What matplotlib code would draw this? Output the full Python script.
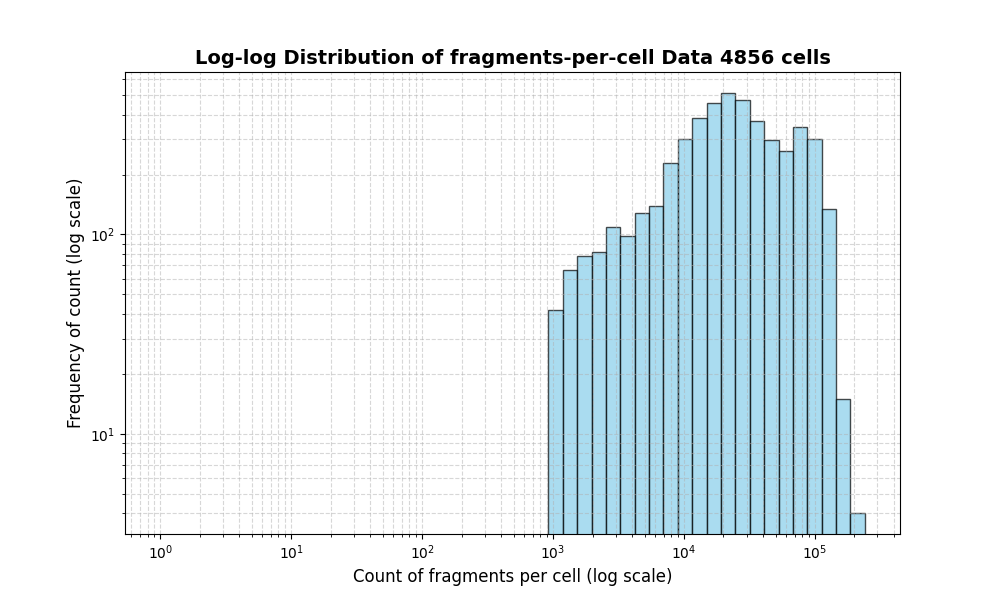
import numpy as np
import matplotlib
matplotlib.use("Agg")
from matplotlib import pyplot as plt

n_cells = 4856
max_fragments = 240000
n_edges = 50
first_bin = 27  # bins below this one are empty

# counts of the non-empty log bins
counts = [42, 66, 78, 82, 109, 98, 128, 139, 228, 301, 384, 458,
          513, 475, 373, 297, 261, 348, 300, 134, 15, 4]

bins = np.logspace(0, np.log10(max_fragments), n_edges)
centers = np.sqrt(bins[:-1] * bins[1:])
weights = np.zeros(len(centers))
weights[first_bin:first_bin + len(counts)] = counts

fig, ax = plt.subplots(figsize=(10, 6), dpi=100)
ax.hist(centers, bins=bins, weights=weights, color='skyblue',
        edgecolor='black', alpha=0.7)
ax.set_xscale('log')
ax.set_yscale('log')
ax.set_title('Log-log Distribution of fragments-per-cell Data %d cells' % n_cells,
             fontsize=14, fontweight='bold')
ax.set_xlabel('Count of fragments per cell (log scale)', fontsize=12)
ax.set_ylabel('Frequency of count (log scale)', fontsize=12)
ax.grid(True, which='both', linestyle='--', alpha=0.5)
fig.savefig('out.png')
